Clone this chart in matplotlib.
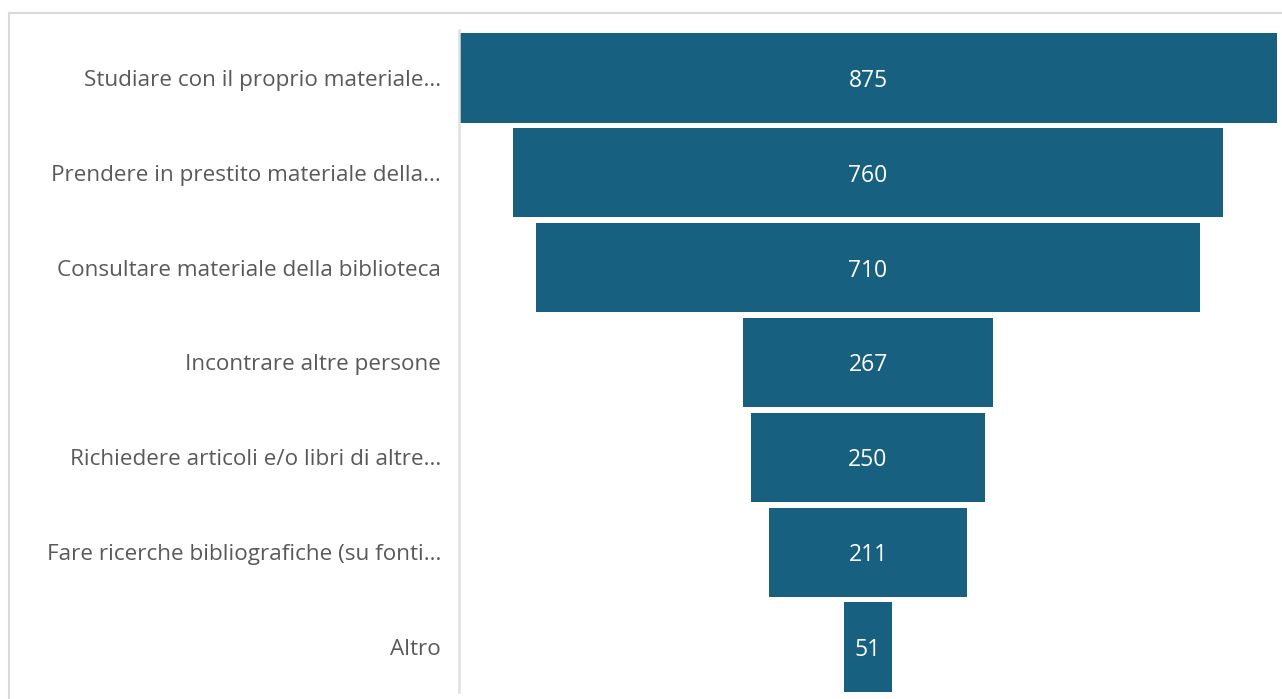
import matplotlib
matplotlib.use("Agg")
import matplotlib.pyplot as plt
from matplotlib.lines import Line2D

categories = [
    "Studiare con il proprio materiale...",
    "Prendere in prestito materiale della...",
    "Consultare materiale della biblioteca",
    "Incontrare altre persone",
    "Richiedere articoli e/o libri di altre...",
    "Fare ricerche bibliografiche (su fonti...",
    "Altro",
]
values = [875, 760, 710, 267, 250, 211, 51]

BAR_COLOR = "#17607f"
W, H, DPI = 1282, 699, 100
plt.rcParams['font.family'] = ['Open Sans', 'DejaVu Sans']

fig = plt.figure(figsize=(W / DPI, H / DPI), dpi=DPI)
fig.patch.set_facecolor("white")

# border lines (top and left)
fig.add_artist(Line2D([8.5 / W, 1.0], [1 - 12.5 / H, 1 - 12.5 / H], transform=fig.transFigure,
                      color="#dadada", lw=1.5))
fig.add_artist(Line2D([8.5 / W, 8.5 / W], [1 - 12.5 / H, 0], transform=fig.transFigure,
                      color="#dadada", lw=1.5))

left_px, right_px, top_px, bot_px = 459, 1277, 30, 692
ax = fig.add_axes([left_px / W, 1 - bot_px / H, (right_px - left_px) / W, (bot_px - top_px) / H])

maxv = max(values)
step = 94.83
y = list(range(len(values)))
ax.barh(y, values, left=[-v / 2 for v in values], height=0.94, color=BAR_COLOR)
for yi, v in zip(y, values):
    ax.text(0, yi, str(v), ha="center", va="center_baseline", color="white", fontsize=16.5)

ax.set_xlim(-maxv / 2, maxv / 2)
ax.set_ylim(-(78 - top_px) / step, (bot_px - 78) / step)
ax.invert_yaxis()
ax.set_yticks(y)
ax.set_yticklabels(categories, fontsize=16.2, color="#595959")
ax.tick_params(axis="y", length=0, pad=13)
ax.set_xticks([])
for s in ["top", "right", "bottom"]:
    ax.spines[s].set_visible(False)
ax.spines["left"].set_color("#e0e0e0")
ax.spines["left"].set_linewidth(1.8)

fig.savefig("out.png", dpi=DPI)
